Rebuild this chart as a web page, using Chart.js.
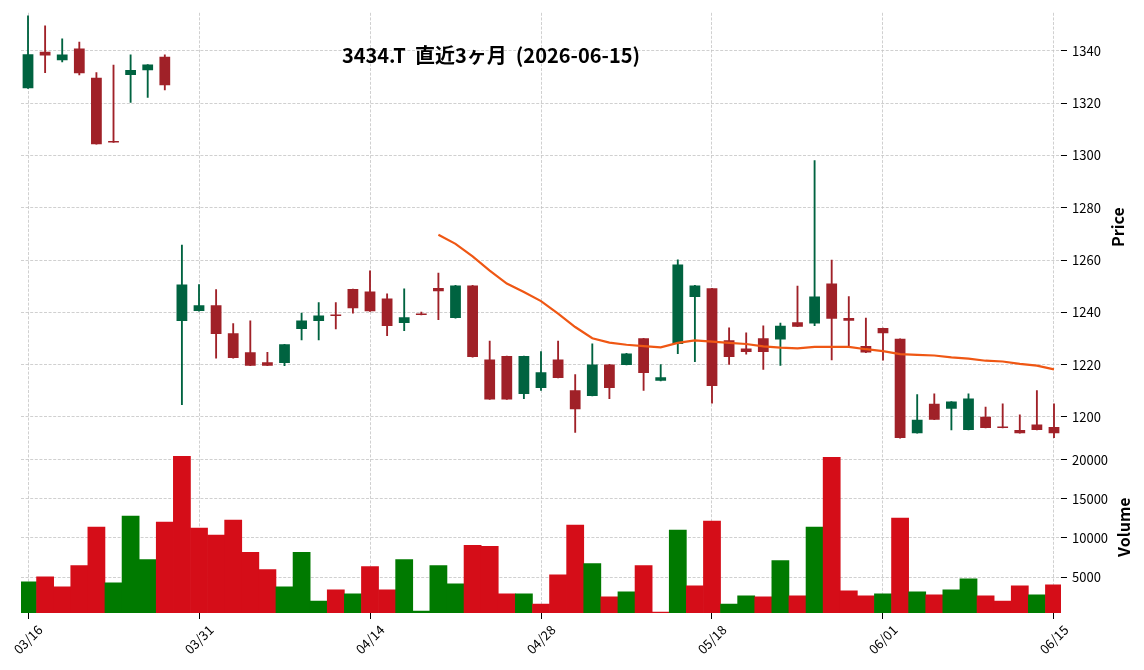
<!DOCTYPE html>
<html>
<head>
<meta charset="utf-8">
<script src="https://cdn.jsdelivr.net/npm/chart.js@4.4.1/dist/chart.umd.min.js"></script>
<style>
  html, body { margin: 0; padding: 0; background: #fff; }
</style>
</head>
<body>
<canvas id="grafico" width="1144" height="670"></canvas>
<script>
// 直近3ヶ月の日足 (営業日のみ)
const dates = [
  "03/16","03/17","03/18","03/19","03/23","03/24","03/25","03/26","03/27","03/30",
  "03/31","04/01","04/02","04/03","04/06","04/07","04/08","04/09","04/10","04/13",
  "04/14","04/15","04/16","04/17","04/20","04/21","04/22","04/23","04/24","04/27",
  "04/28","04/30","05/01","05/07","05/08","05/11","05/12","05/13","05/14","05/15",
  "05/18","05/19","05/20","05/21","05/22","05/25","05/26","05/27","05/28","05/29",
  "06/01","06/02","06/03","06/04","06/05","06/08","06/09","06/10","06/11","06/12",
  "06/15"
];

const opens = [
  1325.7,1339.7,1336.4,1340.9,1329.8,1305.5,1330.8,1332.6,1337.8,1236.7,
  1240.5,1242.7,1232.0,1224.7,1220.9,1220.6,1233.6,1236.7,1239.0,1248.9,
  1248.0,1245.3,1235.9,1239.3,1249.3,1237.8,1250.3,1222.0,1223.3,1208.8,
  1211.1,1222.0,1210.2,1208.0,1220.1,1219.9,1230.1,1213.8,1227.9,1245.9,
  1249.2,1229.3,1226.2,1230.1,1229.6,1236.2,1235.7,1251.0,1237.8,1227.1,
  1234.0,1229.9,1193.8,1205.0,1203.1,1195.0,1200.1,1196.0,1195.0,1197.1,
  1196.1
];
const highs = [
  1353.4,1349.6,1344.6,1343.4,1331.7,1334.6,1338.5,1334.8,1338.5,1265.7,
  1250.6,1248.7,1235.7,1236.8,1224.7,1227.8,1239.7,1243.7,1243.7,1248.9,
  1255.9,1247.1,1249.0,1240.1,1255.0,1250.3,1250.3,1229.0,1223.3,1223.3,
  1225.0,1229.0,1216.2,1228.0,1220.1,1224.3,1230.1,1220.0,1260.1,1250.3,
  1249.2,1234.1,1232.2,1234.8,1235.9,1250.1,1298.1,1260.0,1246.0,1237.8,
  1234.0,1229.9,1208.5,1208.8,1205.9,1208.8,1203.8,1205.0,1200.8,1210.1,
  1205.0
];
const lows = [
  1325.7,1331.7,1335.8,1330.8,1304.3,1305.0,1320.3,1322.2,1325.1,1204.7,
  1240.5,1222.5,1222.5,1219.6,1219.6,1219.6,1229.5,1229.5,1233.7,1239.7,
  1240.4,1231.1,1233.0,1239.0,1237.2,1237.8,1222.9,1206.7,1206.7,1207.0,
  1210.1,1214.9,1194.1,1208.0,1207.0,1219.9,1210.1,1213.8,1224.2,1221.1,
  1205.3,1220.1,1224.0,1218.2,1219.7,1234.5,1234.9,1221.8,1227.1,1224.6,
  1221.7,1191.9,1193.8,1198.9,1195.0,1195.0,1195.8,1195.8,1193.8,1195.0,
  1192.1
];
const closes = [
  1338.7,1338.3,1338.6,1331.5,1304.3,1305.0,1332.7,1334.8,1326.9,1250.7,
  1242.7,1231.7,1222.5,1219.6,1219.6,1227.8,1236.9,1238.8,1238.6,1241.6,
  1240.4,1234.8,1238.1,1239.0,1248.1,1250.3,1222.9,1206.7,1206.7,1223.3,
  1217.1,1214.9,1202.9,1220.1,1211.1,1224.3,1216.8,1215.2,1258.3,1250.3,
  1211.8,1222.9,1224.8,1224.8,1234.9,1234.5,1246.1,1237.6,1236.8,1224.6,
  1232.0,1191.9,1198.9,1198.9,1205.9,1207.0,1195.8,1195.8,1193.8,1195.0,
  1193.8
];
// 25日移動平均 (最初の24日は値なし)
const ma25 = [
  null,null,null,null,null,null,null,null,null,null,
  null,null,null,null,null,null,null,null,null,null,
  null,null,null,null,1269.7,1266.2,1261.4,1256.0,1251.0,1247.8,
  1244.3,1239.5,1234.4,1230.1,1228.4,1227.6,1227.1,1226.6,1228.3,1229.3,
  1228.8,1228.3,1227.9,1227.0,1226.5,1226.2,1226.8,1226.8,1226.8,1225.9,
  1225.2,1224.0,1223.7,1223.5,1222.8,1222.3,1221.5,1221.2,1220.3,1219.6,
  1218.2
];
const volumes = [
  4400,5040,3750,6470,11380,4270,12800,7240,12030,20430,
  11250,10350,12280,8150,5950,3750,8150,1940,3360,2850,
  6340,3360,7240,650,6470,4140,9050,8920,2850,2850,
  1550,5300,11640,6720,2460,3100,6470,520,10990,3880,
  12160,1550,2590,2460,7110,2590,11380,20300,3230,2590,
  2850,12540,3100,2720,3360,4780,2590,1940,3880,2720,
  4010
];
// 出来高の色 (1 = 上昇, 0 = 下落)
const volUp = [
  1,0,0,0,0,1,1,1,0,0,
  0,0,0,0,0,1,1,1,0,1,
  0,0,1,1,1,1,0,0,0,1,
  0,0,0,1,0,1,0,0,1,0,
  0,1,1,0,1,0,1,0,0,0,
  1,0,1,0,1,1,0,0,0,1,
  0
];
const xTicks = [0, 10, 20, 30, 40, 50, 60];
const priceTicks = [1200, 1220, 1240, 1260, 1280, 1300, 1320, 1340];
const volTicks = [5000, 10000, 15000, 20000];
const titulo = "3434.T  直近3ヶ月  (2026-06-15)";

const FONTE = '"Noto Sans CJK JP", "Noto Sans", sans-serif';
const corAlta = "#006340";
const corBaixa = "#a02128";
const volAlta = "#007a00";
const volBaixa = "#d50d18";
const corGrade = "#c4c4c4";

const corCandle = closes.map((c, i) => c >= opens[i] ? corAlta : corBaixa);

const pavio = dates.map((d, i) => ({ x: i, y: [lows[i], highs[i]] }));
const corpo = dates.map((d, i) => ({ x: i, y: [opens[i], closes[i]] }));
const media = dates.map((d, i) => ({ x: i, y: ma25[i] }));
const volume = dates.map((d, i) => ({ x: i, y: volumes[i] }));

// Textos: título e rótulos dos eixos
const textos = {
  id: "textos",
  afterDraw(chart) {
    const ctx = chart.ctx;
    const yP = chart.scales.y;
    const yV = chart.scales.yv;
    ctx.save();
    ctx.fillStyle = "#000";
    ctx.textAlign = "center";
    ctx.textBaseline = "middle";
    ctx.font = "bold 20px " + FONTE;
    ctx.fillText(titulo, 491, 55);

    ctx.font = "bold 16px " + FONTE;
    ctx.translate(chart.width - 26, (yP.top + yP.bottom) / 2);
    ctx.rotate(-Math.PI / 2);
    ctx.fillText("Price", 0, 0);
    ctx.restore();

    ctx.save();
    ctx.fillStyle = "#000";
    ctx.textAlign = "center";
    ctx.textBaseline = "middle";
    ctx.font = "bold 16px " + FONTE;
    ctx.translate(chart.width - 20, (yV.top + yV.bottom) / 2);
    ctx.rotate(-Math.PI / 2);
    ctx.fillText("Volume", 0, 0);
    ctx.restore();
  }
};

const grade = {
  color: corGrade,
  lineWidth: 0.8,
  offset: false,
  tickColor: "#000",
  tickBorderDash: [],
  tickLength: 6,
  tickWidth: 1
};
const borda = { display: false, dash: [3, 1.6] };
const fonteTicks = { family: FONTE, size: 13 };

const ctx = document.getElementById("grafico").getContext("2d");
new Chart(ctx, {
  type: "bar",
  data: {
    datasets: [
      {
        type: "line",
        data: media,
        yAxisID: "y",
        borderColor: "#ef5714",
        borderWidth: 2.2,
        pointRadius: 0,
        tension: 0,
        order: 0
      },
      {
        data: corpo,
        yAxisID: "y",
        backgroundColor: corCandle,
        barPercentage: 0.63,
        categoryPercentage: 1,
        minBarLength: 1.5,
        grouped: false,
        order: 1
      },
      {
        data: pavio,
        yAxisID: "y",
        backgroundColor: corCandle,
        barThickness: 1.2,
        grouped: false,
        order: 2
      },
      {
        data: volume,
        yAxisID: "yv",
        backgroundColor: volUp.map(u => u ? volAlta : volBaixa),
        barPercentage: 1,
        categoryPercentage: 1,
        grouped: false,
        order: 3
      }
    ]
  },
  options: {
    responsive: false,
    devicePixelRatio: 1,
    animation: false,
    layout: { padding: { top: 11, left: 21, right: 0, bottom: 0 } },
    plugins: {
      legend: { display: false },
      tooltip: { enabled: false }
    },
    scales: {
      x: {
        type: "linear",
        position: "bottom",
        offset: false,
        min: -0.41,
        max: 60.41,
        grid: grade,
        border: borda,
        afterBuildTicks: (axis) => { axis.ticks = xTicks.map(v => ({ value: v })); },
        afterFit: (axis) => { axis.height = 57; axis.paddingLeft = 0; axis.paddingRight = 0; },
        ticks: {
          autoSkip: false,
          minRotation: 45,
          maxRotation: 45,
          labelOffset: 12,
          color: "#000",
          font: fonteTicks,
          callback: (v) => dates[v]
        }
      },
      y: {
        type: "linear",
        position: "right",
        stack: "painel",
        stackWeight: 429,
        min: 1190.7,
        max: 1354.6,
        grid: grade,
        border: borda,
        afterBuildTicks: (axis) => { axis.ticks = priceTicks.map(v => ({ value: v })); },
        afterFit: (axis) => { axis.width = 83; },
        ticks: { color: "#000", font: fonteTicks, padding: 5, callback: (v) => String(v) }
      },
      yv: {
        type: "linear",
        position: "right",
        stack: "painel",
        stackWeight: 172,
        min: 410,
        max: 22350,
        grid: grade,
        border: borda,
        afterBuildTicks: (axis) => { axis.ticks = volTicks.map(v => ({ value: v })); },
        afterFit: (axis) => { axis.width = 83; },
        ticks: { color: "#000", font: fonteTicks, padding: 5, callback: (v) => String(v) }
      }
    }
  },
  plugins: [textos]
});
</script>
</body>
</html>
